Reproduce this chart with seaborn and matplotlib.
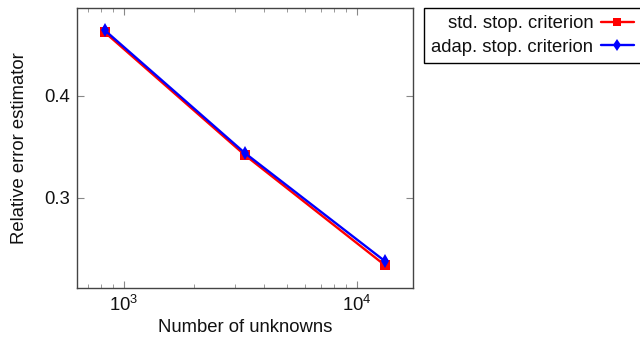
import pandas as pd
import matplotlib
matplotlib.use("Agg")
import matplotlib.pyplot as plt
import seaborn as sns

# data
unknowns = [828, 3300, 13200]
err_std = [0.462, 0.342, 0.234]
err_adap = [0.464, 0.344, 0.238]
series_names = ["std. stop. criterion", "adap. stop. criterion"]

df = pd.DataFrame({
    "n": unknowns * 2,
    "err": err_std + err_adap,
    "series": [series_names[0]] * 3 + [series_names[1]] * 3,
})

sns.set_style("ticks")
plt.rcParams["font.family"] = ["Liberation Sans", "DejaVu Sans"]
plt.rcParams["mathtext.fontset"] = "custom"
plt.rcParams["mathtext.rm"] = "Liberation Sans"
plt.rcParams["mathtext.it"] = "Liberation Sans:italic"
plt.rcParams["text.color"] = "#111111"
plt.rcParams["axes.labelcolor"] = "#111111"
plt.rcParams["xtick.labelcolor"] = "#111111"
plt.rcParams["ytick.labelcolor"] = "#111111"

fs = 13.3

fig = plt.figure(figsize=(6.4, 3.37), dpi=100)
ax = fig.add_axes([0.1203, 0.1454, 0.525, 0.831])

ax = sns.lineplot(data=df, x="n", y="err", hue="series", style="series",
                  palette={series_names[0]: "#ff0000", series_names[1]: "#0000ff"},
                  markers={series_names[0]: "s", series_names[1]: "d"},
                  dashes=False, linewidth=1.7, markersize=7,
                  markeredgewidth=0, ax=ax)
for line in ax.lines:
    if line.get_marker() == "d":
        line.set_markersize(7.5)

ax.set_xscale("log")
ax.set_xlim(628, 17400)
ax.set_ylim(0.2118, 0.486)
ax.set_yticks([0.3, 0.4])
ax.set_yticklabels(["0.3", "0.4"])

ax.tick_params(axis="both", which="both", direction="in", top=True, right=True,
               color="#888888", labelsize=fs)
ax.tick_params(axis="both", which="major", length=5, pad=5)
ax.tick_params(axis="x", which="minor", length=3)
for s in ax.spines.values():
    s.set_color("#444444")
    s.set_linewidth(1.0)

ax.set_xlabel("Number of unknowns", fontsize=fs, labelpad=3)
ax.set_ylabel("Relative error estimator", fontsize=fs, labelpad=12)

h, l = ax.get_legend_handles_labels()
leg = ax.legend(h, l, loc="upper left", bbox_to_anchor=(0.6625, 0.976),
                bbox_transform=fig.transFigure, fontsize=fs, markerfirst=False,
                frameon=True, fancybox=False, edgecolor="black", framealpha=1,
                borderaxespad=0, handlelength=1.8, handletextpad=0.4,
                borderpad=0.4, labelspacing=0.35)
leg.get_frame().set_linewidth(1.0)
for lh in leg.get_lines():
    lh.set_markersize(5.5 if lh.get_marker() == "s" else 6)

plt.savefig("out.png", dpi=100)
